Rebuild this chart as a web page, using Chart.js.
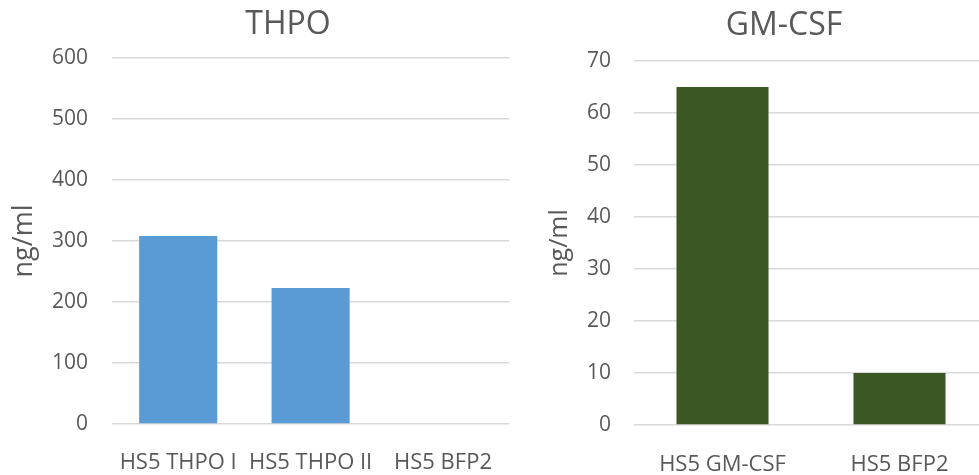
<!DOCTYPE html>
<html>
<head>
<meta charset="utf-8">
<script src="https://cdn.jsdelivr.net/npm/chart.js@4/dist/chart.umd.min.js"></script>
<style>
  html, body { margin: 0; padding: 0; background: #ffffff; overflow: hidden; width: 979px; height: 475px; }
  canvas { position: absolute; top: 0; }
  #thpo { left: 0; }
  #gmcsf { left: 520px; }
</style>
</head>
<body>
<canvas id="thpo" width="510" height="475"></canvas>
<canvas id="gmcsf" width="468" height="475"></canvas>
<script>
// THPO panel
const thpoCategories = ['HS5 THPO I', 'HS5 THPO II', 'HS5 BFP2'];
const thpoValues = [308, 223, 0];
// GM-CSF panel
const gmcsfCategories = ['HS5 GM-CSF', 'HS5 BFP2'];
const gmcsfValues = [65, 10];

const TEXT = '#595959';
const GRID = '#d9d9d9';
const FONT = "'Open Sans', sans-serif";

// Shifts the title block sideways after layout
const titleShift = {
  id: 'titleShift',
  afterLayout(chart, args, opts) {
    const t = chart.titleBlock;
    if (t && opts.dx) { t.left += opts.dx; t.right += opts.dx; }
  }
};

function makeChart(id, cfg) {
  return new Chart(document.getElementById(id), {
    type: 'bar',
    data: {
      labels: cfg.labels,
      datasets: [{
        data: cfg.values,
        backgroundColor: cfg.color,
        borderWidth: 0,
        barPercentage: 1,
        categoryPercentage: cfg.catPct
      }]
    },
    plugins: [titleShift],
    options: {
      responsive: false,
      animation: false,
      events: [],
      layout: { padding: 0 },
      plugins: {
        legend: { display: false },
        tooltip: { enabled: false },
        titleShift: { dx: cfg.titleDx },
        title: {
          display: true,
          text: cfg.title,
          color: TEXT,
          font: { family: FONT, size: 32, weight: 'normal' },
          padding: { top: cfg.titleTop, bottom: cfg.titleBottom }
        }
      },
      scales: {
        x: {
          grid: { display: false },
          border: { display: false },
          ticks: {
            color: TEXT,
            font: { family: FONT, size: 22 },
            padding: cfg.xPad,
            autoSkip: false,
            maxRotation: 0,
            minRotation: 0
          },
          afterFit(scale) { scale.height = cfg.xHeight; }
        },
        y: {
          min: 0,
          max: cfg.max,
          grid: { color: GRID, lineWidth: 1.5, drawTicks: false },
          border: { display: false },
          ticks: {
            stepSize: cfg.step,
            color: TEXT,
            font: { family: FONT, size: 21 },
            padding: cfg.yPad
          },
          title: {
            display: true,
            text: 'ng/ml',
            color: TEXT,
            font: { family: FONT, size: cfg.axisTitleSize },
            padding: { top: cfg.axisTitlePad, bottom: 0 }
          },
          afterFit(scale) { scale.width = cfg.yWidth; }
        }
      }
    }
  });
}

makeChart('thpo', {
  labels: thpoCategories,
  values: thpoValues,
  title: 'THPO',
  color: '#5b9bd5',
  catPct: 0.59,
  max: 600,
  step: 100,
  yWidth: 112,
  xHeight: 51,
  xPad: 18,
  yPad: 24,
  titleTop: 6,
  titleBottom: 13.6,
  titleDx: 33,
  axisTitleSize: 27,
  axisTitlePad: 8
});

makeChart('gmcsf', {
  labels: gmcsfCategories,
  values: gmcsfValues,
  title: 'GM-CSF',
  color: '#3a5724',
  catPct: 0.52,
  max: 70,
  step: 10,
  yWidth: 114,
  xHeight: 50,
  xPad: 19,
  yPad: 23,
  titleTop: 7,
  titleBottom: 15.6,
  titleDx: 30,
  axisTitleSize: 25,
  axisTitlePad: 25
});
</script>
</body>
</html>
